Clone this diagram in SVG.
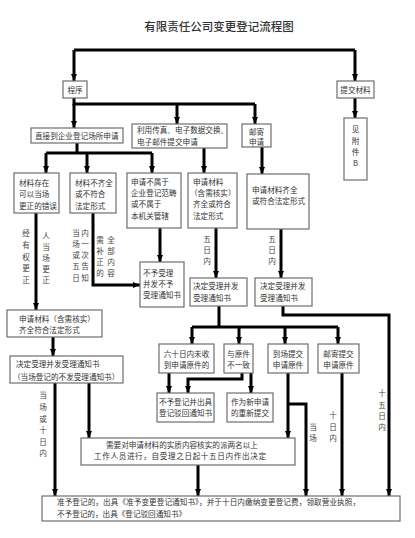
<svg xmlns="http://www.w3.org/2000/svg" width="415" height="538" viewBox="0 0 415 538">
<defs>
<style>
.bx{fill:#fff;stroke:#6e6e6e;stroke-width:1.2}
.t{font-family:"Noto Sans CJK SC","Noto Sans",sans-serif;font-size:7.6px;fill:#333}
.m{text-anchor:middle}
.v{font-family:"Noto Sans CJK SC","Noto Sans",sans-serif;font-size:7.6px;fill:#444;text-anchor:middle}
.ln{fill:none;stroke:#000;stroke-width:3}
.ar{fill:none;stroke:#000;stroke-width:3;marker-end:url(#ah)}
</style>
<marker id="ah" markerUnits="userSpaceOnUse" viewBox="0 0 7 6" refX="7" refY="3" markerWidth="7" markerHeight="6" orient="auto">
<path d="M0,0 L7,3 L0,6 z" fill="#000"/>
</marker>
</defs>
<rect width="415" height="538" fill="#fff"/>
<text x="219" y="31" class="t m" style="font-size:11.5px;font-weight:500;fill:#333">有限责任公司变更登记流程图</text>

<g id="connectors">
<path class="ln" d="M74,50 H355"/>
<path class="ar" d="M74,50 V81"/>
<path class="ar" d="M355,50 V81"/>
<path class="ln" d="M74,98 V104 H255"/>
<path class="ar" d="M74,104 V128"/>
<path class="ar" d="M177,104 V124"/>
<path class="ar" d="M255,104 V124"/>
<path class="ar" d="M355,98 V118"/>
<path class="ln" d="M77,143 V153"/>
<path class="ln" d="M46,153 H152"/>
<path class="ar" d="M46,153 V173"/>
<path class="ar" d="M87,153 V173"/>
<path class="ar" d="M152,153 V173"/>
<path class="ar" d="M204,148 V173"/>
<path class="ar" d="M262,147 V174"/>
<path class="ar" d="M36,213 V310"/>
<path class="ar" d="M93,213 V285 H140"/>
<path class="ar" d="M160,228 V262"/>
<path class="ar" d="M216,228 V278"/>
<path class="ar" d="M281,229 V278"/>
<path class="ar" d="M283,306 V315 H389 V496"/>
<path class="ln" d="M219,306 V327"/>
<path class="ln" d="M192,327 H338"/>
<path class="ar" d="M192,327 V344"/>
<path class="ar" d="M239,327 V344"/>
<path class="ar" d="M285,327 V344"/>
<path class="ar" d="M338,327 V344"/>
<path class="ar" d="M169,373 V393"/>
<path class="ar" d="M242,373 V379 H188 V393"/>
<path class="ar" d="M251,373 V393"/>
<path class="ar" d="M288,373 V438"/>
<path class="ar" d="M288,404 H306 V496"/>
<path class="ar" d="M342,373 V496"/>
<path class="ar" d="M198,465 V496"/>
<path class="ar" d="M53,337 V356"/>
<path class="ar" d="M55,383 V496"/>
<path class="ar" d="M89,383 V438"/>
</g>

<g id="labels">
<text class="v" x="26" y="236">经</text><text class="v" x="26" y="248">有</text><text class="v" x="26" y="260">权</text><text class="v" x="26" y="271">更</text><text class="v" x="26" y="283">正</text>
<text class="v" x="46" y="239">人</text><text class="v" x="46" y="250">当</text><text class="v" x="46" y="261">场</text><text class="v" x="46" y="272">更</text><text class="v" x="46" y="283">正</text>
<text class="v" x="76" y="236">当</text><text class="v" x="76" y="247">场</text><text class="v" x="76" y="258">或</text><text class="v" x="76" y="269">五</text><text class="v" x="76" y="281">日</text>
<text class="v" x="85" y="236">内</text><text class="v" x="85" y="247">一</text><text class="v" x="85" y="258">次</text><text class="v" x="85" y="269">告</text><text class="v" x="85" y="281">知</text>
<text class="v" x="100" y="243">需</text><text class="v" x="100" y="254">补</text><text class="v" x="100" y="265">正</text><text class="v" x="100" y="276">的</text>
<text class="v" x="111" y="243">全</text><text class="v" x="111" y="254">部</text><text class="v" x="111" y="265">内</text><text class="v" x="111" y="276">容</text>
<text class="v" x="207" y="242">五</text><text class="v" x="207" y="253">日</text><text class="v" x="207" y="264">内</text>
<text class="v" x="272" y="242">五</text><text class="v" x="272" y="253">日</text><text class="v" x="272" y="264">内</text>
<text class="v" x="43" y="398">当</text><text class="v" x="43" y="410">场</text><text class="v" x="43" y="422">或</text><text class="v" x="43" y="433">十</text><text class="v" x="43" y="445">日</text><text class="v" x="43" y="456">内</text>
<text class="v" x="382" y="396">十</text><text class="v" x="382" y="408">五</text><text class="v" x="382" y="419">日</text><text class="v" x="382" y="430">内</text>
<text class="v" x="313" y="430">当</text><text class="v" x="313" y="441">场</text>
<text class="v" x="333" y="418">十</text><text class="v" x="333" y="430">日</text><text class="v" x="333" y="441">内</text>
</g>

<g id="n-chengxu"><rect class="bx" x="63" y="81" width="24" height="17"/><text class="t m" x="75" y="92.5">程序</text></g>
<g id="n-tijiao"><rect class="bx" x="337" y="81" width="37" height="17"/><text class="t m" x="355.5" y="92.5">提交材料</text></g>
<g id="n-fujian"><rect class="bx" x="344" y="118" width="23" height="62"/>
<text class="t m" x="355.5" y="131.5">见</text><text class="t m" x="355.5" y="143.5">附</text><text class="t m" x="355.5" y="155">件</text><text class="t m" x="355.5" y="166">B</text></g>
<g id="n-zhijie"><rect class="bx" x="31" y="128" width="92" height="15"/><text class="t" x="35" y="138.5">直接到企业登记场所申请</text></g>
<g id="n-chuanzhen"><rect class="bx" x="132" y="124" width="95" height="24"/><text class="t" x="137" y="133">利用传真、电子数据交换、</text><text class="t" x="137" y="145">电子邮件提交申请</text></g>
<g id="n-youji"><rect class="bx" x="242" y="124" width="29" height="23"/><text class="t m" x="256.5" y="134.5">邮寄</text><text class="t m" x="256.5" y="145">申请</text></g>

<g id="n-gengzheng"><rect class="bx" x="14" y="173" width="45" height="40"/><text class="t" x="19" y="186">材料存在</text><text class="t" x="19" y="197">可以当场</text><text class="t" x="19" y="209">更正的错误</text></g>
<g id="n-buqi"><rect class="bx" x="70" y="173" width="46" height="40"/><text class="t" x="75" y="186">材料不齐全</text><text class="t" x="75" y="197">或不符合</text><text class="t" x="75" y="209">法定形式</text></g>
<g id="n-bushu"><rect class="bx" x="127" y="173" width="54" height="55"/><text class="t" x="131" y="185">申请不属于</text><text class="t" x="131" y="196">企业登记范畴</text><text class="t" x="131" y="207">或不属于</text><text class="t" x="131" y="219">本机关管辖</text></g>
<g id="n-qiquan1"><rect class="bx" x="188" y="173" width="49" height="55"/><text class="t" x="193" y="185">申请材料</text><text class="t" x="190" y="196">（含需核实）</text><text class="t" x="193" y="207">齐全或符合</text><text class="t" x="193" y="219">法定形式</text></g>
<g id="n-qiquan2"><rect class="bx" x="247" y="174" width="62" height="55"/><text class="t" x="252" y="193">申请材料齐全</text><text class="t" x="252" y="204">或符合法定形式</text></g>

<g id="n-buyushouli"><rect class="bx" x="140" y="262" width="44" height="45"/><text class="t" x="143" y="276">不予受理</text><text class="t" x="143" y="287">并发不予</text><text class="t" x="143" y="298">受理通知书</text></g>
<g id="n-shouli1"><rect class="bx" x="190" y="278" width="57" height="28"/><text class="t" x="193" y="289">决定受理并发</text><text class="t" x="193" y="301">受理通知书</text></g>
<g id="n-shouli2"><rect class="bx" x="255" y="278" width="57" height="28"/><text class="t" x="260" y="289">决定受理并发</text><text class="t" x="260" y="301">受理通知书</text></g>

<g id="n-qiquan3"><rect class="bx" x="7" y="310" width="95" height="27"/><text class="t" x="19" y="322">申请材料（含需核实）</text><text class="t" x="19" y="333">齐全符合法定形式</text></g>
<g id="n-shouli3"><rect class="bx" x="10" y="356" width="113" height="27"/><text class="t" x="16" y="367">决定受理并发受理通知书</text><text class="t" x="13" y="380">（当场登记的不发受理通知书）</text></g>

<g id="n-liushi"><rect class="bx" x="159" y="344" width="55" height="29"/><text class="t m" x="186.5" y="357">六十日内未收</text><text class="t m" x="186.5" y="368">到申请原件的</text></g>
<g id="n-buyizhi"><rect class="bx" x="224" y="344" width="29" height="29"/><text class="t m" x="238.5" y="357">与原件</text><text class="t m" x="238.5" y="368">不一致</text></g>
<g id="n-daochang"><rect class="bx" x="268" y="344" width="40" height="29"/><text class="t m" x="288" y="357">到场提交</text><text class="t m" x="288" y="368">申请原件</text></g>
<g id="n-youjiyuanjian"><rect class="bx" x="318" y="344" width="41" height="29"/><text class="t m" x="338.5" y="357">邮寄提交</text><text class="t m" x="338.5" y="368">申请原件</text></g>
<g id="n-bohui"><rect class="bx" x="157" y="393" width="57" height="29"/><text class="t m" x="185.5" y="405">不予登记并出具</text><text class="t m" x="185.5" y="416">登记驳回通知书</text></g>
<g id="n-xinshenqing"><rect class="bx" x="227" y="393" width="46" height="29"/><text class="t m" x="250" y="405">作为新申请</text><text class="t m" x="250" y="416">的重新提交</text></g>
<g id="n-hesh"><rect class="bx" x="81" y="438" width="214" height="27"/><text class="t" x="106" y="448">需要对申请材料的实质内容核实的派两名以上</text><text class="t" x="94" y="459" textLength="172">工作人员进行，自受理之日起十五日内作出决定</text></g>
<g id="n-final"><rect class="bx" x="42" y="496" width="358" height="25"/><text class="t" x="57" y="505" textLength="303">准予登记的，出具《准予变更登记通知书》，并于十日内缴纳变更登记费，领取营业执照，</text><text class="t" x="57" y="517">不予登记的，出具《登记驳回通知书》</text></g>
</svg>
